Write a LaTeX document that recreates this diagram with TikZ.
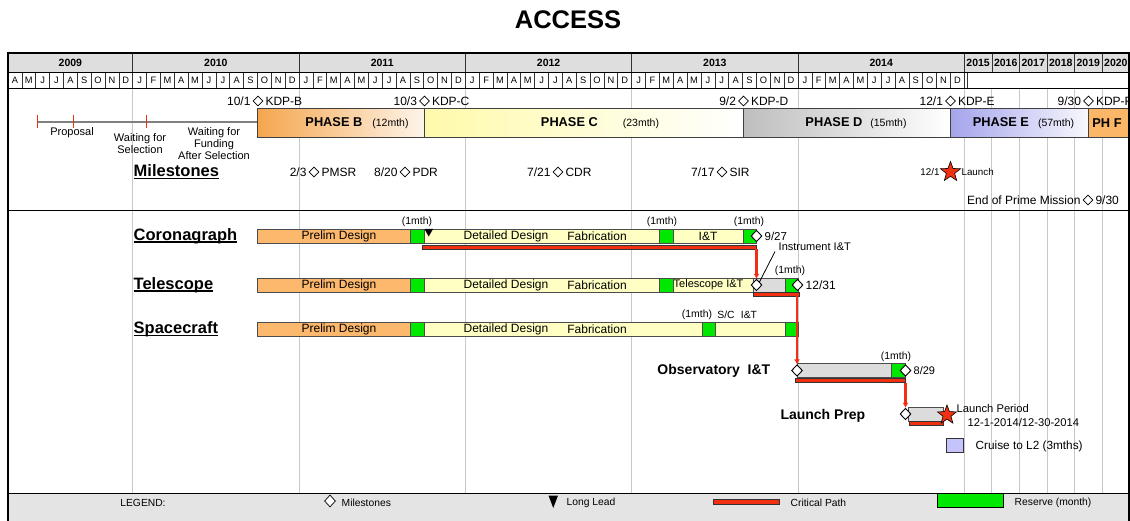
\documentclass[tikz,border=0pt]{standalone}
\usepackage{fontspec}
\setmainfont{Liberation Sans}
\usetikzlibrary{positioning,shapes.geometric,arrows.meta}
\definecolor{gridgray}{RGB}{200,200,200}
\definecolor{hdrgray}{RGB}{222,222,222}
\definecolor{lgdgray}{RGB}{228,228,228}
\definecolor{prelim}{RGB}{252,184,108}
\definecolor{detail}{RGB}{255,255,196}
\definecolor{rsv}{RGB}{0,232,0}
\definecolor{intg}{RGB}{220,220,220}
\definecolor{rred}{RGB}{240,48,16}
\definecolor{cruise}{RGB}{196,196,250}
\definecolor{phb}{RGB}{245,166,78}
\definecolor{phc}{RGB}{255,250,170}
\definecolor{phd}{RGB}{190,190,190}
\definecolor{phe}{RGB}{164,164,236}
\definecolor{phf}{RGB}{251,182,104}
\newcommand{\fsz}[1]{\fontsize{#1}{#1}\selectfont}
\newcommand{\ulbox}[1]{\setbox0=\hbox{#1}\rlap{\rule[-2.6pt]{\wd0}{1.5pt}}\box0}

\begin{document}
\begin{tikzpicture}[x=1pt, y=-1pt, node distance=1.5pt,
    txt/.style={inner sep=0.5pt, font=\fsz{12}},
    sml/.style={inner sep=0.5pt, font=\fsz{10.4}},
    lgd/.style={inner sep=0.5pt, font=\fsz{10.3}},
    yr/.style={inner sep=0pt, font=\bfseries\fsz{10.5}},
    mon/.style={inner sep=0pt, font=\fsz{9.3}},
    phase/.style={inner sep=0pt, font=\bfseries\fsz{12.8}},
    task/.style={inner sep=0.5pt, anchor=west, font=\bfseries\fsz{16.5}},
    bar/.style={draw=black!70, line width=0.8pt},
    crit/.style={draw=black!80, fill=rred, line width=0.5pt},
    ms/.style={diamond, draw, fill=white, line width=0.7pt, inner sep=0pt, minimum width=10pt, minimum height=10pt},
    msbar/.style={ms, line width=0.9pt, minimum width=11pt, minimum height=11.5pt},
    launchstar/.style={star, star points=5, star point ratio=2.4, draw=black, fill=rred, line width=0.6pt, inner sep=0pt, minimum size=21pt},
    rarr/.style={color=rred, line width=2.2pt, -{Latex[length=5pt,width=6pt]}}]
    \useasboundingbox (0,0) rectangle (1130,521);

    \node[font=\bfseries\fsz{25.5}] (title) at (568,20) {ACCESS};

    % header and legend backgrounds
    \fill[hdrgray] (8,53) rectangle (1129,72);
    \fill[lgdgray] (8,493) rectangle (1129,521);

    % year grid
    \foreach \x in {132.7,299.0,465.4,631.7,798.0,964.3,991.9,1019.4,1047.0,1074.5,1102.1} {
        \draw[gridgray, line width=1pt] (\x,88) -- (\x,493);
        \draw[black!80, line width=0.8pt] (\x,53) -- (\x,72);
    }
    \foreach \yr/\x in {2009/70.4, 2010/215.9, 2011/382.2, 2012/548.6, 2013/714.9, 2014/881.2,
                        2015/978.1, 2016/1005.7, 2017/1033.2, 2018/1060.8, 2019/1088.3, 2020/1115.9}
        \node[yr] (y\yr) at (\x,62.5) {\yr};

    % months
    \foreach \m [count=\i from 0] in {A,M,J,J,A,S,O,N,D,
            J,F,M,A,M,J,J,A,S,O,N,D, J,F,M,A,M,J,J,A,S,O,N,D, J,F,M,A,M,J,J,A,S,O,N,D,
            J,F,M,A,M,J,J,A,S,O,N,D, J,F,M,A,M,J,J,A,S,O,N,D} {
        \node[mon] (m\i) at ({8+(\i+0.5)*13.86},80.5) {\m};
        \draw[black!80, line width=0.7pt] ({8+(\i+1)*13.86},72) -- ++(0,16);
    }
    \draw[black!80, line width=0.7pt] (967.5,72) -- (967.5,88);
    \draw[line width=0.8pt] (8,72) -- (1129,72);

    % proposal period
    \draw[gray, line width=1.4pt] (37,122) -- (257.5,122);
    \foreach \x in {37,73,146}
        \draw[rred, line width=0.9pt] (\x,115.5) -- (\x,128.5);
    \node[txt, font=\fsz{11}] (prop) at (72,133) {Proposal};
    \node[txt, font=\fontsize{11}{12}\selectfont, align=center] (wsel) at (140,144) {Waiting for\\Selection};
    \node[txt, font=\fontsize{11}{12}\selectfont, align=center] (wfund) at (214,144) {Waiting for\\Funding\\After Selection};

    % phases
    \draw[black!75, line width=0.8pt, left color=phb, right color=phb!12] (257.5,108.5) rectangle (424,137.5);
    \draw[black!75, line width=0.8pt, left color=phc, right color=white] (424,108.5) rectangle (743.5,137.5);
    \draw[black!75, line width=0.8pt, left color=phd, right color=white] (743.5,108.5) rectangle (950.5,137.5);
    \draw[black!75, line width=0.8pt, left color=phe, right color=phe!8] (950.5,108.5) rectangle (1088,137.5);
    \draw[black!75, line width=0.8pt, fill=phf] (1088,108.5) rectangle (1128.7,137.5);
    \node[phase] (phB) at (357,123) {PHASE B\hspace{10pt}{\mdseries\fsz{10.5}(12mth)}};
    \node[phase] (phC) at (600,123) {PHASE C\hspace{25pt}{\mdseries\fsz{10.5}(23mth)}};
    \node[phase] (phD) at (856,123) {PHASE D\hspace{8pt}{\mdseries\fsz{10.5}(15mth)}};
    \node[phase] (phE) at (1023.5,123) {PHASE E\hspace{9pt}{\mdseries\fsz{10.5}(57mth)}};
    \node[phase] (phF) at (1107,123) {PH F};

    % key decision points
    \node[ms] (kdpB) at (258,101) {};
    \node[txt, left=of kdpB] (kdpBd) {10/1};
    \node[txt, right=of kdpB] (kdpBn) {KDP-B};
    \node[ms] (kdpC) at (424.5,101) {};
    \node[txt, left=of kdpC] (kdpCd) {10/3};
    \node[txt, right=of kdpC] (kdpCn) {KDP-C};
    \node[ms] (kdpD) at (743.5,101) {};
    \node[txt, left=of kdpD] (kdpDd) {9/2};
    \node[txt, right=of kdpD] (kdpDn) {KDP-D};
    \node[ms] (kdpE) at (950.5,101) {};
    \node[txt, left=of kdpE] (kdpEd) {12/1};
    \node[txt, right=of kdpE] (kdpEn) {KDP-E};
    \node[ms] (kdpF) at (1088.5,101) {};
    \node[txt, left=of kdpF] (kdpFd) {9/30};
    \node[txt, right=of kdpF] (kdpFn) {KDP-F};

    % milestones
    \node[task] (mlst) at (133,172) {\ulbox{Milestones}};
    \node[ms] (pmsr) at (314,172) {};
    \node[txt, left=of pmsr] (pmsrd) {2/3};
    \node[txt, right=of pmsr] (pmsrn) {PMSR};
    \node[ms] (pdr) at (405,172) {};
    \node[txt, left=of pdr] (pdrd) {8/20};
    \node[txt, right=of pdr] (pdrn) {PDR};
    \node[ms] (cdr) at (558,172) {};
    \node[txt, left=of cdr] (cdrd) {7/21};
    \node[txt, right=of cdr] (cdrn) {CDR};
    \node[ms] (sir) at (722,172) {};
    \node[txt, left=of sir] (sird) {7/17};
    \node[txt, right=of sir] (sirn) {SIR};
    \node[launchstar] (launch) at (950.5,172) {};
    \node[sml, font=\fsz{9.8}, left=4pt of launch] (launchd) {12/1};
    \node[sml, font=\fsz{9.8}, right=4pt of launch] (launchn) {Launch};
    \node[ms] (eopm) at (1088,200) {};
    \node[txt, left=of eopm] (eopmn) {End of Prime Mission};
    \node[txt, right=of eopm] (eopmd) {9/30};

    % subsystems
    \node[task] (cor) at (133,236) {\ulbox{Coronagraph}};
    \node[task] (tel) at (133,285) {\ulbox{Telescope}};
    \node[task] (sc) at (133,329.5) {\ulbox{Spacecraft}};
    \foreach \y/\t/\e in {236/cor/659, 285/tel/659, 329.5/sc/702} {
        \draw[bar, fill=prelim] (257.5,\y-7) rectangle (410,\y+7);
        \draw[bar, fill=rsv] (410,\y-7) rectangle (424,\y+7);
        \draw[bar, fill=detail] (424,\y-7) rectangle (\e,\y+7);
        \node[txt] (pd\t) at (339,\y) {Prelim Design};
        \node[txt] (dd\t) at (506,\y) {Detailed Design};
        \node[txt] (fab\t) at (597,\y) {Fabrication};
    }

    % coronagraph
    \draw[bar, fill=rsv] (659,229) rectangle (673,243);
    \draw[bar, fill=detail] (673,229) rectangle (743,243);
    \draw[bar, fill=rsv] (743,229) rectangle (756.5,243);
    \node[txt] (itcor) at (708,236) {I\&T};
    \fill (424.5,229) -- (433,229) -- (428.75,236.5) -- cycle;
    \node[sml] (rcor1) at (417,222) {(1mth)};
    \node[sml] (rcor2) at (662,222) {(1mth)};
    \node[sml] (rcor3) at (749,222) {(1mth)};
    \node[msbar] (cor927) at (756.5,236) {};
    \node[txt, font=\fsz{11.5}, right=of cor927] (cor927d) {9/27};
    \draw[crit] (422.5,245.5) rectangle (756.5,249.5);
    \coordinate (cpcor) at (756.5,249.5);

    % telescope
    \draw[bar, fill=rsv] (659,278) rectangle (673,292);
    \draw[bar, fill=detail] (673,278) rectangle (753,292);
    \draw[bar, fill=intg] (753,278) rectangle (785,292);
    \draw[bar, fill=rsv] (785,278) rectangle (798,292);
    \node[txt, font=\fsz{11}, anchor=west] (itel) at (673,285) {Telescope I\&T};
    \node[msbar] (tel1) at (756.5,285) {};
    \node[msbar] (tel2) at (797.5,285) {};
    \node[txt, right=of tel2] (tel2d) {12/31};
    \node[sml] (rtel) at (790,271) {(1mth)};
    \node[txt, font=\fsz{11}, anchor=west] (instr) at (778,247) {Instrument I\&T};
    \draw[line width=0.8pt] (tel1.north east) -- ([xshift=-3pt]instr.south west);
    \draw[crit] (753,292.5) rectangle (799,296.5);
    \coordinate (cptel) at (797,296.5);
    \draw[rarr] (cpcor) -- (tel1.north);

    % spacecraft
    \draw[bar, fill=rsv] (702,322.5) rectangle (715,336.5);
    \draw[bar, fill=detail] (715,322.5) rectangle (785,336.5);
    \draw[bar, fill=rsv] (785,322.5) rectangle (798,336.5);
    \node[sml] (rsc) at (697,315) {(1mth)};
    \node[sml] (scsc) at (726,315) {S/C};
    \node[sml] (scit) at (749,315) {I\&T};

    % observatory I&T
    \node[inner sep=0.5pt, anchor=east, font=\bfseries\fsz{14}] (obs) at (771,371) {Observatory\ \ I\&T};
    \draw[bar, fill=intg] (797,363.5) rectangle (891,377.5);
    \draw[bar, fill=rsv] (891,363.5) rectangle (905.5,377.5);
    \node[msbar] (obs1) at (797,370.5) {};
    \node[msbar] (obs2) at (905.5,370.5) {};
    \node[txt, font=\fsz{11}, right=of obs2] (obs2d) {8/29};
    \node[sml] (robs) at (896,357) {(1mth)};
    \draw[crit] (795,378.5) rectangle (905.5,382.5);
    \coordinate (cpobs) at (905.5,382.5);
    \draw[rarr] (cptel) -- (obs1.north);

    % launch prep
    \node[inner sep=0.5pt, anchor=east, font=\bfseries\fsz{14}] (lp) at (866,416) {Launch Prep};
    \draw[bar, fill=intg] (908,407.5) rectangle (943,421);
    \draw[crit] (909,421.5) rectangle (943,425.5);
    \node[msbar] (lp1) at (905.5,414) {};
    \node[launchstar, minimum size=20pt] (lpstar) at (947,415) {};
    \draw[rarr] (cpobs) -- (lp1.north);
    \node[txt, font=\fsz{11.2}, anchor=west] (lpp) at (956,408) {Launch Period};
    \node[txt, font=\fsz{11.2}, anchor=west] (lpd) at (967,422) {12-1-2014/12-30-2014};
    \draw[black!80, line width=0.8pt, fill=cruise] (946,438.5) rectangle (963,452.5);
    \node[txt, font=\fsz{11.8}, anchor=west] (cruise) at (975,446) {Cruise to L2 (3mths)};

    % legend
    \node[lgd] (lgd) at (143,503) {LEGEND:};
    \node[ms, minimum width=11pt, minimum height=12pt] (lgdms) at (330,501) {};
    \node[lgd, anchor=west] (lgdmsn) at (341,503) {Milestones};
    \fill (548.5,495.5) -- (558,495.5) -- (553.25,508) -- cycle;
    \node[lgd, anchor=west] (lgdll) at (566,503) {Long Lead};
    \draw[crit] (713,499) rectangle (779,504);
    \node[lgd, anchor=west] (lgdcp) at (790,503) {Critical Path};
    \draw[black, line width=0.8pt, fill=rsv] (937,493) rectangle (1003,507.5);
    \node[lgd, anchor=west] (lgdrs) at (1014,503) {Reserve (month)};

    % frame
    \draw[line width=1.6pt] (8,88.5) -- (1128.7,88.5);
    \draw[line width=1.8pt] (8,210.5) -- (1128.7,210.5);
    \draw[line width=1.8pt] (8,493.5) -- (1128.7,493.5);
    \draw[line width=1.8pt] (8,521) -- (8,53) -- (1128.7,53) -- (1128.7,521);
\end{tikzpicture}
\end{document}
